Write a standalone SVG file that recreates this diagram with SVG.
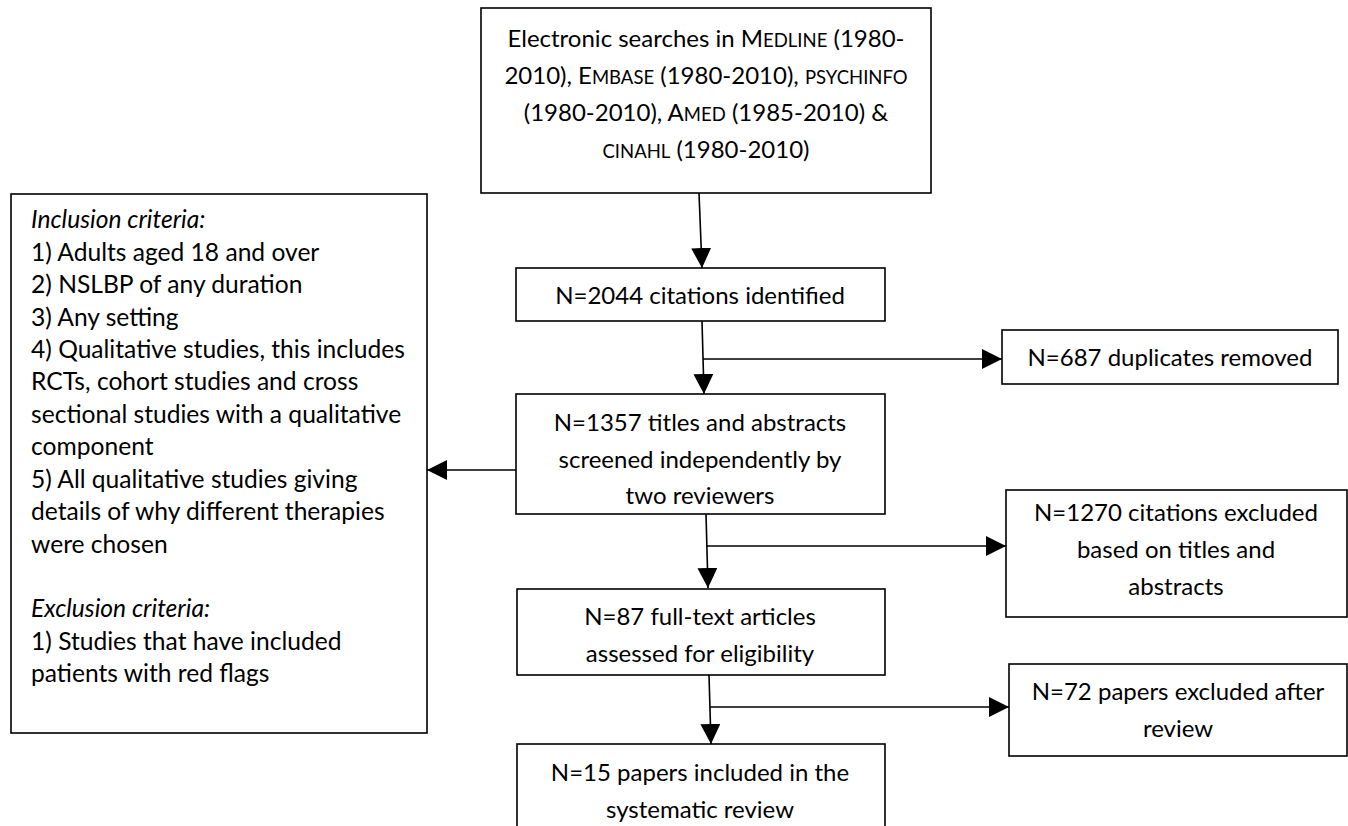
<svg xmlns="http://www.w3.org/2000/svg" width="1348" height="826" viewBox="0 0 1348 826">
<style>
.box{fill:#fff;stroke:#000;stroke-width:1.6}
.t{font-family:Lato,"Open Sans","Liberation Sans",sans-serif;font-size:24px;fill:#000}
.l{font-size:24.6px}
.c{text-anchor:middle}
.sc{font-size:18.5px}
.i{font-style:italic}
.ln{fill:none;stroke:#000;stroke-width:1.6}
</style>
<defs>
<marker id="ah" viewBox="0 0 20 20" refX="20" refY="10" markerWidth="20" markerHeight="20" markerUnits="userSpaceOnUse" orient="auto">
<path d="M0,0 L20,10 L0,20 Z" fill="#000"/>
</marker>
</defs>
<rect width="1348" height="826" fill="#fff"/>
<g id="connectors">
<path class="ln" d="M699,193 L702,268" marker-end="url(#ah)"/>
<path class="ln" d="M702,321 L704,394" marker-end="url(#ah)"/>
<path class="ln" d="M703,359 L1002,359" marker-end="url(#ah)"/>
<path class="ln" d="M516,470 L427,470" marker-end="url(#ah)"/>
<path class="ln" d="M706,514 L708,588" marker-end="url(#ah)"/>
<path class="ln" d="M707,546 L1006,546" marker-end="url(#ah)"/>
<path class="ln" d="M709,675 L711,744" marker-end="url(#ah)"/>
<path class="ln" d="M710,707 L1009,707" marker-end="url(#ah)"/>
</g>
<g id="search">
<rect class="box" x="481" y="8" width="450" height="185"/>
<text class="t c" x="706" y="47">Electronic searches in M<tspan class="sc">EDLINE</tspan> (1980-</text>
<text class="t c" x="706" y="84">2010), E<tspan class="sc">MBASE</tspan> (1980-2010), <tspan class="sc">PSYCHINFO</tspan></text>
<text class="t c" x="706" y="121">(1980-2010), A<tspan class="sc">MED</tspan> (1985-2010) &amp;</text>
<text class="t c" x="706" y="158"><tspan class="sc">CINAHL</tspan> (1980-2010)</text>
</g>
<g id="criteria">
<rect class="box" x="11" y="194" width="416" height="539"/>
<text class="t l i" x="31" y="228">Inclusion criteria:</text>
<text class="t l" x="31" y="261">1) Adults aged 18 and over</text>
<text class="t l" x="31" y="293">2) NSLBP of any duration</text>
<text class="t l" x="31" y="326">3) Any setting</text>
<text class="t l" x="31" y="358">4) Qualitative studies, this includes</text>
<text class="t l" x="31" y="390">RCTs, cohort studies and cross</text>
<text class="t l" x="31" y="423">sectional studies with a qualitative</text>
<text class="t l" x="31" y="455">component</text>
<text class="t l" x="31" y="488">5) All qualitative studies giving</text>
<text class="t l" x="31" y="520">details of why different therapies</text>
<text class="t l" x="31" y="553">were chosen</text>
<text class="t l i" x="31" y="617">Exclusion criteria:</text>
<text class="t l" x="31" y="650">1) Studies that have included</text>
<text class="t l" x="31" y="682">patients with red flags</text>
</g>
<g id="identified">
<rect class="box" x="516" y="268" width="369" height="53"/>
<text class="t c" x="700" y="304">N=2044 citations identified</text>
</g>
<g id="duplicates">
<rect class="box" x="1002" y="330" width="336" height="54"/>
<text class="t c" x="1170" y="366">N=687 duplicates removed</text>
</g>
<g id="screened">
<rect class="box" x="516" y="394" width="369" height="120"/>
<text class="t c" x="700" y="431">N=1357 titles and abstracts</text>
<text class="t c" x="700" y="468">screened independently by</text>
<text class="t c" x="700" y="504">two reviewers</text>
</g>
<g id="excluded1">
<rect class="box" x="1006" y="490" width="341" height="127"/>
<text class="t c" x="1176" y="521">N=1270 citations excluded</text>
<text class="t c" x="1176" y="558">based on titles and</text>
<text class="t c" x="1176" y="595">abstracts</text>
</g>
<g id="fulltext">
<rect class="box" x="517" y="589" width="368" height="86"/>
<text class="t c" x="700" y="625">N=87 full-text articles</text>
<text class="t c" x="700" y="662">assessed for eligibility</text>
</g>
<g id="excluded2">
<rect class="box" x="1009" y="664" width="338" height="92"/>
<text class="t c" x="1178" y="700">N=72 papers excluded after</text>
<text class="t c" x="1178" y="737">review</text>
</g>
<g id="included">
<rect class="box" x="517" y="744" width="368" height="90"/>
<text class="t c" x="700" y="781">N=15 papers included in the</text>
<text class="t c" x="700" y="818">systematic review</text>
</g>
</svg>
